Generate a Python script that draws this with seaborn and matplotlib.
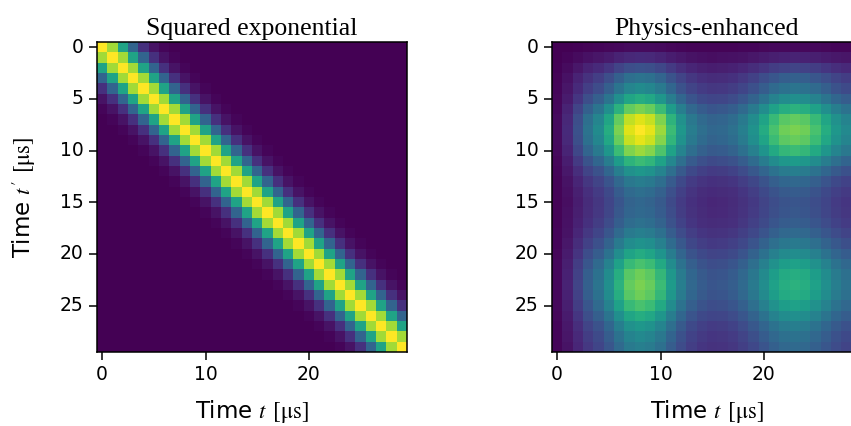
import numpy as np
import seaborn as sns
import matplotlib.pyplot as plt

plt.rcParams['mathtext.fontset'] = 'stix'

n = 30
# squared exponential kernel: value by lag |t - t'|
se_lag = [1.0, 0.86, 0.58, 0.32, 0.14, 0.05, 0.015, 0.0]
# physics-enhanced kernel: profile along t, kernel ~ outer product
pe_profile = [0.03, 0.12, 0.25, 0.38, 0.48, 0.62, 0.8, 0.95, 1.0, 0.96,
              0.85, 0.68, 0.53, 0.42, 0.36, 0.33, 0.34, 0.37, 0.43, 0.51,
              0.61, 0.71, 0.78, 0.8, 0.78, 0.71, 0.62, 0.53, 0.47, 0.43]
xticks = [0, 10, 20]
yticks = [0, 5, 10, 15, 20, 25]

t = np.arange(n)
lag = np.abs(t[:, None] - t[None, :])
K_se = np.zeros((n, n))
for d, v in enumerate(se_lag):
    K_se[lag == d] = v
prof = np.array(pe_profile)
K_pe = np.outer(prof, prof)

fig = plt.figure(figsize=(8.51, 4.26), dpi=100)
ax1 = fig.add_axes([97/851, 74/426, 310/851, 310/426])
ax2 = fig.add_axes([552/851, 74/426, 310/851, 310/426])

for ax, K, title in [(ax1, K_se, 'Squared exponential'),
                     (ax2, K_pe, 'Physics-enhanced')]:
    sns.heatmap(K, ax=ax, cmap='viridis', cbar=False, square=True)
    for s in ax.spines.values():
        s.set_visible(True)
        s.set_linewidth(1.1)
    ax.set_xticks([x + 0.5 for x in xticks])
    ax.set_xticklabels(xticks, rotation=0, fontsize=13.5)
    ax.set_yticks([y + 0.5 for y in yticks])
    ax.set_yticklabels(yticks, rotation=0, fontsize=13.5)
    ax.tick_params(length=5.5, width=1.1, pad=4)
    ax.set_title(title, family='Liberation Serif', fontsize=18.5, pad=5)
    ax.set_xlabel('Time $t$ $[\\mathrm{\\mu s}]$', fontsize=16.5, labelpad=10)

ax1.set_ylabel("Time $t'$ $[\\mathrm{\\mu s}]$", fontsize=16.5, labelpad=16)

fig.savefig('out.png', dpi=100)
